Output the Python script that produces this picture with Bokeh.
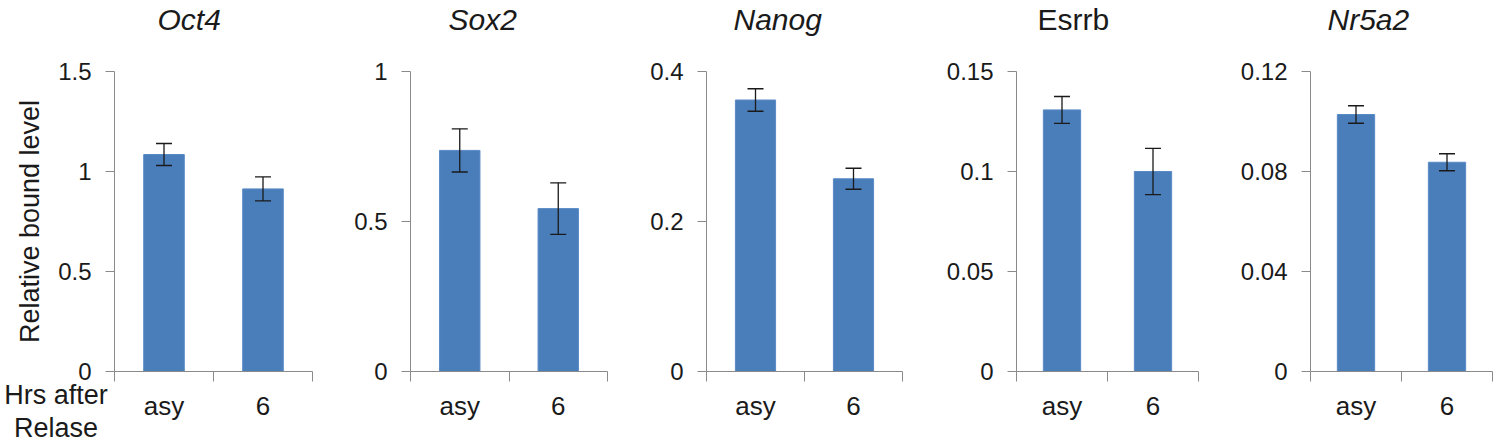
from bokeh.plotting import figure
from bokeh.layouts import row
from bokeh.models import (Range1d, FixedTicker, NumeralTickFormatter, Whisker, TeeHead,
                          ColumnDataSource)
from bokeh.core.properties import value
from bokeh.embed import file_html
from bokeh.resources import INLINE

# ---------------- data ----------------
categories = ["asy", "6"]
genes = ["Oct4", "Sox2", "Nanog", "Esrrb", "Nr5a2"]
gene_italic = [True, True, True, False, True]

oct4_mean = [1.085, 0.913]
oct4_err = [0.055, 0.060]
sox2_mean = [0.737, 0.543]
sox2_err = [0.072, 0.086]
nanog_mean = [0.362, 0.257]
nanog_err = [0.015, 0.014]
esrrb_mean = [0.1308, 0.100]
esrrb_err = [0.0067, 0.0116]
nr5a2_mean = [0.1028, 0.0837]
nr5a2_err = [0.0035, 0.0034]

oct4_ticks = [0, 0.5, 1, 1.5]
sox2_ticks = [0, 0.5, 1]
nanog_ticks = [0, 0.2, 0.4]
esrrb_ticks = [0, 0.05, 0.1, 0.15]
nr5a2_ticks = [0, 0.04, 0.08, 0.12]

y_axis_label = "Relative bound level"
x_row_label = "Hrs after\nRelase"

means = [oct4_mean, sox2_mean, nanog_mean, esrrb_mean, nr5a2_mean]
errs = [oct4_err, sox2_err, nanog_err, esrrb_err, nr5a2_err]
ticks = [oct4_ticks, sox2_ticks, nanog_ticks, esrrb_ticks, nr5a2_ticks]

# ---------------- layout / style ----------------
FONT = "Liberation Sans"
TXT = "#1a1a1a"
AX = "#8a8a8a"
BAR = "#4a7ebb"
# Each panel's frame covers the whole panel (so texts left of / below the axes
# stay inside it); the axes are placed at fixed data locations.
FRAME_TOP = 37         # px, top of frames (title sits above)
FRAME_BOTTOM = 444     # px, bottom of frames
AXIS_TOP = 71          # px, pixel of the top tick
AXIS_ZERO = 371        # px, pixel of zero
ROW_LABEL_X = -0.59    # centre of the "Hrs after / Relase" text (data units)
ROW_LABEL_DY = 8       # px below the x axis
# (panel width, y-axis px offset in panel, category width px, title offset)
geom = [
    (330, 114, 99.0, 157),
    (296, 80, 98.5, 118),
    (304, 80, 98.0, 107),
    (294, 86, 91.0, 107),
    (274, 86, 91.0, 103),
]

figs = []
for i, gene in enumerate(genes):
    PW, AXX, CAT, toff = geom[i]
    ncat = len(categories)
    ymax = max(ticks[i])
    pxu = (AXIS_ZERO - AXIS_TOP) / ymax
    x_range = Range1d(-AXX / CAT, (PW - AXX) / CAT)
    y_range = Range1d(-(FRAME_BOTTOM - AXIS_ZERO) / pxu, ymax + (AXIS_TOP - FRAME_TOP) / pxu)
    p = figure(frame_width=PW, frame_height=FRAME_BOTTOM - FRAME_TOP,
               output_backend="svg", toolbar_location=None,
               x_range=x_range, y_range=y_range,
               min_border_left=0, min_border_right=0, min_border_top=FRAME_TOP,
               min_border_bottom=0, title=gene)
    p.outline_line_color = None
    p.grid.visible = False
    p.background_fill_color = "white"
    p.border_fill_color = "white"

    p.title.text_font = FONT
    p.title.text_font_size = "30px"
    p.title.text_font_style = "italic" if gene_italic[i] else "normal"
    p.title.text_color = TXT
    p.title.align = "left"
    p.title.offset = toff
    p.title.standoff = 0
    p.title.vertical_align = "top"

    xs = [k + 0.5 for k in range(ncat)]
    m = means[i]
    e = errs[i]
    src = ColumnDataSource(dict(
        x=xs, top=m,
        upper=[a + b for a, b in zip(m, e)],
        lower=[a - b for a, b in zip(m, e)],
    ))
    p.vbar(x="x", top="top", width=0.41, bottom=0, source=src,
           fill_color=BAR, line_color="#5a8ac6", line_width=1)
    w = Whisker(source=src, base="x", upper="upper", lower="lower", level="overlay",
                line_color=TXT, line_width=1.3,
                upper_head=TeeHead(size=16, line_color=TXT, line_width=1.3),
                lower_head=TeeHead(size=16, line_color=TXT, line_width=1.3))
    p.add_layout(w)

    xa = p.xaxis[0]
    xa.fixed_location = 0
    xa.ticker = FixedTicker(ticks=xs, minor_ticks=list(range(ncat + 1)))
    xa.major_label_overrides = {x: c for x, c in zip(xs, categories)}
    xa.bounds = (0, ncat)
    xa.major_tick_line_color = None
    xa.major_tick_out = 0
    xa.major_tick_in = 0
    xa.minor_tick_line_color = AX
    xa.minor_tick_out = 10
    xa.minor_tick_in = 0
    xa.axis_line_color = AX
    xa.major_label_text_font = FONT
    xa.major_label_text_font_size = "26px"
    xa.major_label_text_color = TXT
    xa.major_label_standoff = 9

    ya = p.yaxis[0]
    ya.fixed_location = 0
    ya.ticker = FixedTicker(ticks=ticks[i])
    ya.formatter = NumeralTickFormatter(format="0.[00]")
    ya.bounds = (0, ymax)
    ya.axis_line_color = AX
    ya.major_tick_line_color = AX
    ya.major_tick_out = 9
    ya.major_tick_in = 0
    ya.minor_tick_line_color = None
    ya.major_label_text_font = FONT
    ya.major_label_text_font_size = "24px"
    ya.major_label_text_color = TXT
    ya.major_label_standoff = 14

    if i == 0:
        ya.axis_label = y_axis_label
        ya.axis_label_text_font = FONT
        ya.axis_label_text_font_size = "27px"
        ya.axis_label_text_font_style = "normal"
        ya.axis_label_text_color = TXT
        ya.axis_label_standoff = 10
        p.text(x=[ROW_LABEL_X], y=[-ROW_LABEL_DY / pxu], text=[x_row_label],
               text_align="center", text_baseline="top",
               text_font=value(FONT), text_font_size="27px", text_color=TXT,
               text_line_height=1.1)
    figs.append(p)

layout = row(*figs, spacing=0)
open("out.html", "w").write(file_html(layout, INLINE))
